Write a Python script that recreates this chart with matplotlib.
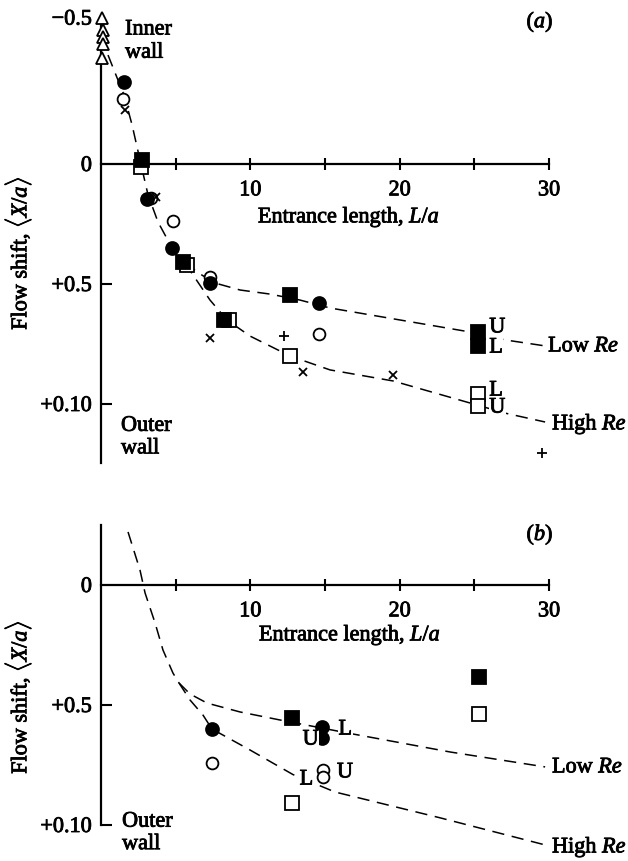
import matplotlib.pyplot as plt
import matplotlib.patheffects as pe

plt.rcParams['font.family'] = 'Liberation Serif'
plt.rcParams['mathtext.fontset'] = 'custom'
plt.rcParams['mathtext.rm'] = 'Liberation Serif'
plt.rcParams['mathtext.it'] = 'Liberation Serif:italic'

W, H = 628, 861

# ---- panel (a) data: entrance length L/a, flow shift <X/a> ----
a_tri_x = [0.07, 0.13, 0.13, 0.13, 0.07]
a_tri_y = [-0.61, -0.56, -0.53, -0.50, -0.44]
a_fcirc_x = [1.54, 3.08, 4.76, 7.30, 14.6]
a_fcirc_y = [-0.34, 0.146, 0.35, 0.496, 0.579]
a_ocirc_x = [1.47, 3.35, 4.82, 7.30, 14.6]
a_ocirc_y = [-0.27, 0.142, 0.238, 0.471, 0.708]
a_fsq_x = [2.75, 5.49, 8.24, 12.66, 25.25, 25.25]
a_fsq_y = [-0.017, 0.408, 0.65, 0.546, 0.70, 0.758]
a_osq_x = [2.68, 5.76, 8.57, 12.66, 25.25, 25.25]
a_osq_y = [0.0125, 0.421, 0.65, 0.80, 0.958, 1.008]
a_cross_x = [1.61, 3.68, 7.30, 13.53, 19.56]
a_cross_y = [-0.225, 0.1375, 0.725, 0.867, 0.879]
a_plus_x = [12.26, 29.54]
a_plus_y = [0.717, 1.204]

# dashed fits, panel (a)
a_common_x = [0.47, 1.0, 1.54, 2.08, 2.61, 3.15, 3.82, 4.76, 5.63]
a_common_y = [-0.454, -0.371, -0.288, -0.163, -0.017, 0.129, 0.242, 0.35, 0.413]
a_low_x = [5.63, 6.63, 7.64, 9.31, 11.32, 13.33, 15.34, 20.03, 24.72, 27.06, 29.74]
a_low_y = [0.413, 0.458, 0.496, 0.525, 0.542, 0.567, 0.60, 0.65, 0.70, 0.733, 0.758]
a_high_x = [5.63, 6.30, 7.30, 8.44, 9.98, 12.66, 15.34, 19.56, 24.72, 27.06, 29.74]
a_high_y = [0.413, 0.475, 0.567, 0.65, 0.717, 0.80, 0.858, 0.904, 0.996, 1.038, 1.075]

# ---- panel (b) data ----
b_fcirc_x = [7.43, 14.8, 14.8]
b_fcirc_y = [0.60, 0.592, 0.6375]
b_ocirc_x = [7.43, 14.87, 14.87]
b_ocirc_y = [0.742, 0.771, 0.80]
b_fsq_x = [12.79, 25.32]
b_fsq_y = [0.554, 0.383]
b_osq_x = [12.79, 25.32]
b_osq_y = [0.908, 0.5375]

b_common_x = [1.81, 2.61, 2.95, 3.62, 4.15, 4.82, 5.22]
b_common_y = [-0.221, -0.0625, 0.033, 0.158, 0.271, 0.367, 0.408]
b_low_x = [5.22, 5.96, 7.10, 9.31, 11.99, 16.54, 23.4, 29.74]
b_low_y = [0.408, 0.454, 0.492, 0.529, 0.5625, 0.617, 0.696, 0.758]
b_high_x = [5.22, 5.96, 6.83, 7.43, 9.98, 12.86, 15.67, 22.7, 29.74]
b_high_y = [0.408, 0.479, 0.542, 0.60, 0.6875, 0.79, 0.8625, 0.97, 1.083]

xticks = [5, 10, 15, 20, 25, 30]
xticklabels = ['', '10', '', '20', '', '30']

FS = 16
heavy = [pe.withStroke(linewidth=0.6, foreground='black')]
dash = dict(color='black', lw=1.1, dashes=(8, 5))


def px_axes(fig, x0, x1, y0, y1):
    return fig.add_axes([x0 / W, 1 - y1 / H, (x1 - x0) / W, (y1 - y0) / H])


def setup(ax, ylim, ybounds, yticks, yticklabels):
    ax.set_xlim(0, 30)
    ax.set_ylim(ylim)
    for s in ['top', 'right']:
        ax.spines[s].set_visible(False)
    ax.spines['left'].set_bounds(*ybounds)
    ax.spines['left'].set_linewidth(1.6)
    ax.spines['bottom'].set_position(('data', 0))
    ax.spines['bottom'].set_bounds(0, 30)
    ax.spines['bottom'].set_linewidth(1.6)
    ax.set_xticks(xticks, xticklabels)
    ax.tick_params(axis='x', direction='inout', length=9, width=1.5,
                   pad=8, labelsize=FS)
    ax.set_yticks(yticks, yticklabels)
    ax.tick_params(axis='y', direction='in', length=8, width=1.5,
                   pad=6.5, labelsize=FS)
    for t, v in zip(ax.yaxis.get_major_ticks(), yticks):
        if v <= 0:
            t.tick1line.set_visible(False)
    for t in ax.get_xticklabels() + ax.get_yticklabels():
        t.set_path_effects(heavy)


def markers(ax, pts):
    for x, y, m, face, size in pts:
        ax.plot(x, y, ls='none', marker=m, ms=size, mfc=face, mec='black',
                mew=1.3, clip_on=False, zorder=3)


def txt(ax, x, y, s, **kw):
    opts = dict(fontsize=FS, va='center', ha='left', path_effects=heavy)
    opts.update(kw)
    return ax.text(x, y, s, **opts)


fig = plt.figure(figsize=(W / 100, H / 100), dpi=100)

# ---------------- panel (a) ----------------
ax = px_axes(fig, 101, 549, 164 - 0.62 * 240, 164 + 1.25 * 240)
setup(ax, (1.25, -0.62), (-0.61, 1.246), [-0.61, 0, 0.5, 1.0],
      ['\u22120.5', '0', '+0.5', '+0.10'])

ax.plot(a_common_x, a_common_y, **dash)
ax.plot(a_low_x, a_low_y, **dash)
ax.plot(a_high_x, a_high_y, **dash)

markers(ax, [
    (a_tri_x, a_tri_y, '^', 'white', 8.5),
    (a_osq_x, a_osq_y, 's', 'white', 9.5),
    (a_fsq_x, a_fsq_y, 's', 'black', 9.5),
    (a_ocirc_x, a_ocirc_y, 'o', 'white', 8.5),
    (a_fcirc_x, a_fcirc_y, 'o', 'black', 9.3),
    (a_cross_x, a_cross_y, 'x', 'black', 6),
    (a_plus_x, a_plus_y, '+', 'black', 7),
])

box = dict(facecolor='white', edgecolor='none', pad=0.5)
txt(ax, 26.0, 0.683, 'U', bbox=box)
txt(ax, 26.0, 0.767, 'L', bbox=box)
txt(ax, 26.0, 0.946, 'L', bbox=box)
txt(ax, 26.0, 1.017, 'U', bbox=box)
txt(ax, 29.94, 0.7625, 'Low $Re$', bbox=box)
txt(ax, 30.2, 1.0875, 'High $Re$', bbox=box)
txt(ax, 1.61, -0.51, 'Inner\nwall', linespacing=1.3)
txt(ax, 1.34, 1.14, 'Outer\nwall', linespacing=1.25)
txt(ax, 29.4, -0.59, '($a$)', ha='center')

fig.text(349 / W, 1 - 218 / H, 'Entrance length, $L/a$', fontsize=FS,
         ha='center', va='center', path_effects=heavy)
fig.text(18 / W, 1 - 253 / H, r'Flow shift, $\langle X/a\rangle$',
         fontsize=FS, rotation=90, ha='center', va='center',
         path_effects=heavy)

# ---------------- panel (b) ----------------
bx = px_axes(fig, 101, 549, 585 - 0.27 * 240, 585 + 1.12 * 240)
setup(bx, (1.12, -0.27), (-0.25, 1.0), [0, 0.5, 1.0],
      ['0', '+0.5', '+0.10'])

bx.plot(b_common_x, b_common_y, **dash)
bx.plot(b_low_x, b_low_y, **dash)
bx.plot(b_high_x, b_high_y, **dash)

markers(bx, [
    (b_osq_x, b_osq_y, 's', 'white', 9.5),
    (b_fsq_x, b_fsq_y, 's', 'black', 9.5),
    (b_ocirc_x, b_ocirc_y, 'o', 'white', 8.5),
    (b_fcirc_x, b_fcirc_y, 'o', 'black', 9.3),
])

txt(bx, 13.5, 0.646, 'U', bbox=box)
txt(bx, 15.9, 0.604, 'L', bbox=box)
txt(bx, 13.3, 0.8125, 'L', bbox=box)
txt(bx, 15.8, 0.783, 'U', bbox=box)
txt(bx, 30.2, 0.7625, 'Low $Re$', bbox=box)
txt(bx, 30.2, 1.096, 'High $Re$', bbox=box)
txt(bx, 1.41, 1.035, 'Outer\nwall', linespacing=1.25)
txt(bx, 29.4, -0.208, '($b$)', ha='center')

fig.text(350 / W, 1 - 636 / H, 'Entrance length, $L/a$', fontsize=FS,
         ha='center', va='center', path_effects=heavy)
fig.text(18 / W, 1 - 697 / H, r'Flow shift, $\langle X/a\rangle$',
         fontsize=FS, rotation=90, ha='center', va='center',
         path_effects=heavy)

fig.savefig('out.png', dpi=100)
